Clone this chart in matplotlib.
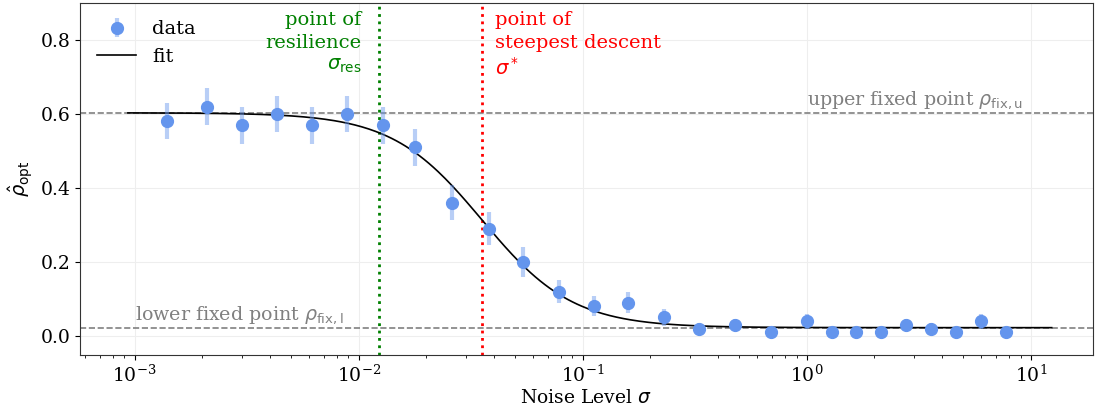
import numpy as np
import matplotlib
matplotlib.use("Agg")
import matplotlib.pyplot as plt

plt.rcParams["font.family"] = ["DejaVu Serif"]
plt.rcParams["mathtext.fontset"] = "dejavusans"

# measured optimal fixation probability vs. noise level
sigma = [0.0014, 0.0021, 0.0030, 0.0043, 0.0062, 0.0089, 0.0128, 0.0178,
         0.026, 0.038, 0.054, 0.078, 0.112, 0.160, 0.230, 0.330, 0.480,
         0.690, 1.00, 1.29, 1.66, 2.15, 2.78, 3.59, 4.64, 6.00, 7.74]
p_opt = [0.58, 0.62, 0.57, 0.60, 0.57, 0.60, 0.57, 0.51, 0.36, 0.29, 0.20,
         0.12, 0.08, 0.09, 0.05, 0.02, 0.03, 0.01, 0.04, 0.01, 0.01, 0.01,
         0.03, 0.02, 0.01, 0.04, 0.01]
p_err = [0.049, 0.049, 0.050, 0.049, 0.050, 0.049, 0.050, 0.050, 0.048,
         0.045, 0.040, 0.032, 0.027, 0.029, 0.022, 0.014, 0.017, 0.010,
         0.020, 0.010, 0.010, 0.010, 0.017, 0.014, 0.010, 0.020, 0.010]

# fitted sigmoid (in log sigma) parameters
p_upper = 0.603
p_lower = 0.0224
sigma_star = 0.0356
steepness = 2.15
sigma_res = 0.01235


def sigmoid(s):
    return p_lower + (p_upper - p_lower) / (1.0 + (s / sigma_star) ** steepness)


fs = 14
fig = plt.figure(figsize=(10.95, 4.15), dpi=100)
ax = fig.add_axes([0.073, 0.145, 0.925, 0.848])

s_fit = np.logspace(np.log10(min(sigma) / 1.5), np.log10(max(sigma) * 1.6), 400)

ax.axhline(p_upper, color="gray", ls="--", lw=1.2, zorder=1)
ax.axhline(p_lower, color="gray", ls="--", lw=1.2, zorder=1)
ax.axvline(sigma_res, color="green", ls=":", lw=2, zorder=1)
ax.axvline(sigma_star, color="red", ls=":", lw=2, zorder=1)

h_data = ax.errorbar(sigma, p_opt, yerr=p_err, fmt="o", color="cornflowerblue",
                     ms=8.5, elinewidth=3, ecolor=(0.39, 0.58, 0.93, 0.45),
                     capsize=0, label="data", zorder=3)
h_fit, = ax.plot(s_fit, sigmoid(s_fit), color="black", lw=1.2, label="fit", zorder=2)

ax.set_xscale("log")
ax.set_xlim(5.7e-4, 18.9)
ax.set_ylim(-0.051, 0.9)
ax.set_yticks([0.0, 0.2, 0.4, 0.6, 0.8])
ax.grid(True, which="major", color="#eeeeee", lw=0.8)
ax.set_axisbelow(True)

ax.set_xlabel(r"Noise Level $\sigma$", fontsize=fs - 0.5, labelpad=2)
ax.set_ylabel(r"$\hat{\rho}_{\mathrm{opt}}$", fontsize=fs)
ax.tick_params(labelsize=fs - 0.5)
for sp in ax.spines.values():
    sp.set_color("#333333")

ax.text(sigma_res / 1.2, 0.877, "point of\nresilience\n" + r"$\sigma_{\mathrm{res}}$",
        color="green", ha="right", va="top", fontsize=fs, linespacing=1.3)
ax.text(sigma_star * 1.14, 0.877, "point of\nsteepest descent\n" + r"$\sigma^*$",
        color="red", ha="left", va="top", fontsize=fs, linespacing=1.3)
ax.text(1.0, p_upper + 0.004, r"upper fixed point $\rho_{\mathrm{fix,u}}$",
        color="gray", ha="left", va="bottom", fontsize=fs - 0.3)
ax.text(1e-3, p_lower + 0.004, r"lower fixed point $\rho_{\mathrm{fix,l}}$",
        color="gray", ha="left", va="bottom", fontsize=fs - 0.3)

ax.legend([h_data, h_fit], ["data", "fit"], loc="upper left", frameon=False,
          fontsize=fs)

fig.savefig("out.png", dpi=100)
